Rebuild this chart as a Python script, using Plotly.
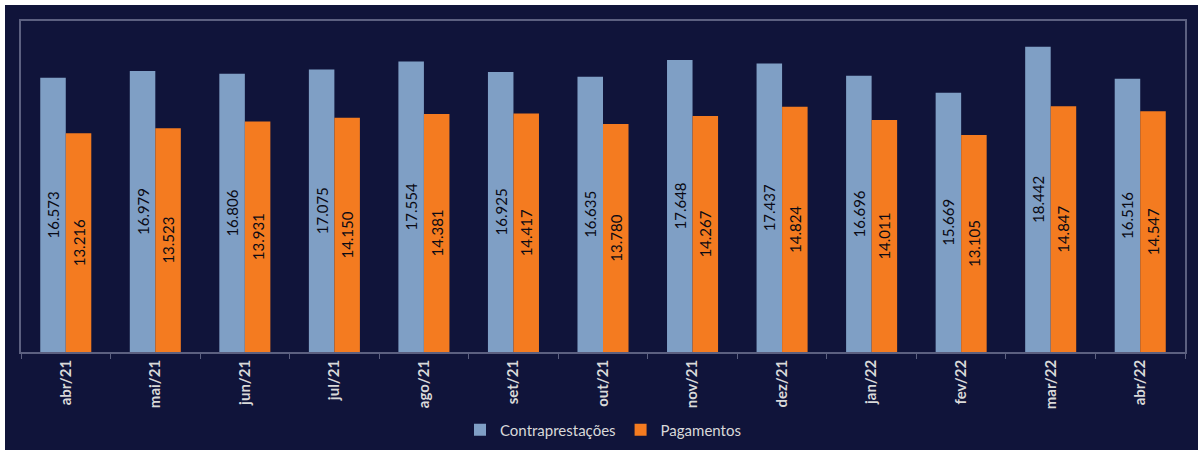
import plotly.graph_objects as go

months = ["abr/21", "mai/21", "jun/21", "jul/21", "ago/21", "set/21", "out/21",
          "nov/21", "dez/21", "jan/22", "fev/22", "mar/22", "abr/22"]
contraprestacoes = [16.573, 16.979, 16.806, 17.075, 17.554, 16.925, 16.635,
                    17.648, 17.437, 16.696, 15.669, 18.442, 16.516]
pagamentos = [13.216, 13.523, 13.931, 14.150, 14.381, 14.417, 13.780,
              14.267, 14.824, 14.011, 13.105, 14.847, 14.547]

def fmt(v):
    return f"{v:.3f}"

NAVY = "#10143a"
BORDER = "#5c6080"
FONT = "Lato"

fig = go.Figure()
fig.add_trace(go.Bar(
    name="Contraprestações", x=months, y=contraprestacoes,
    marker=dict(color="#7f9fc5", line=dict(width=0)),
    text=[fmt(v) for v in contraprestacoes], textposition="inside",
    insidetextanchor="middle", textangle=-90,
    textfont=dict(family=FONT, size=15, color="#0a0a14"),
    cliponaxis=False,
))
fig.add_trace(go.Bar(
    name="Pagamentos", x=months, y=pagamentos,
    marker=dict(color="#f47b20", line=dict(width=0)),
    text=[fmt(v) for v in pagamentos], textposition="inside",
    insidetextanchor="middle", textangle=-90,
    textfont=dict(family=FONT, size=15, color="#0a0a14"),
    cliponaxis=False,
))

L, R, T, B = 21, 13, 21, 98
W, H = 1198, 450
pw, ph = W - L - R, H - T - B

fig.update_layout(
    width=W, height=H,
    margin=dict(l=L, r=R, t=T, b=B, pad=0, autoexpand=False),
    paper_bgcolor=NAVY, plot_bgcolor=NAVY,
    barmode="group", bargap=0.43, bargroupgap=0,
    font=dict(family=FONT, color="#d9d9d9"),
    showlegend=True,
    legend=dict(orientation="h", x=0.5, xanchor="center",
                y=(ph - (430 - T)) / ph, yanchor="middle",
                font=dict(family=FONT, size=15, color="#d9d9d9"),
                itemwidth=30, traceorder="normal",
                bgcolor="rgba(0,0,0,0)"),
    xaxis=dict(showline=True, linecolor=BORDER, linewidth=1.5, mirror=True,
               ticks="outside", tickson="boundaries", ticklen=5, tickcolor=BORDER,
               tickangle=-90, showgrid=False, automargin=False,
               tickfont=dict(family=FONT, size=15, color="#d9d9d9", weight="bold")),
    yaxis=dict(range=[0, 20], showline=True, linecolor=BORDER, linewidth=1.5,
               mirror=True, showticklabels=False, showgrid=False, zeroline=False,
               ticks="", automargin=False),
    shapes=[
        dict(type="rect", xref="paper", yref="paper", layer="above",
             x0=(0 - L) / pw, x1=(5 - L) / pw, y0=(T - H) / ph, y1=1 + T / ph,
             fillcolor="white", line=dict(width=0)),
        dict(type="rect", xref="paper", yref="paper", layer="above",
             x0=(0 - L) / pw, x1=(W - L) / pw, y0=1 + (T - 5) / ph, y1=1 + T / ph,
             fillcolor="white", line=dict(width=0)),
    ],
)

fig.write_html("out.html")
